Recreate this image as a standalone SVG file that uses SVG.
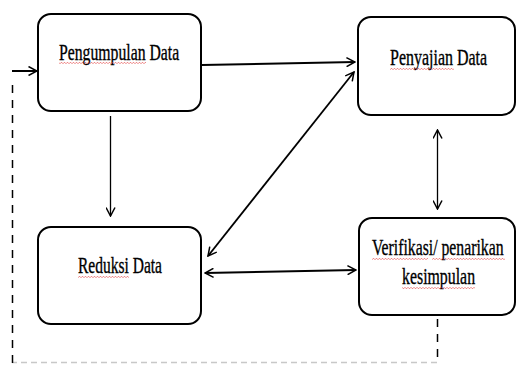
<svg xmlns="http://www.w3.org/2000/svg" width="517" height="365" viewBox="0 0 517 365">
  <style>
    .box { fill: #ffffff; stroke: #000000; stroke-width: 2; }
    .lbl { font-family: "Liberation Serif", "Times New Roman", serif; font-size: 22.5px; fill: #000000; stroke: #000000; stroke-width: 0.35; }
    .con { fill: none; stroke: #000000; }
    .dash { fill: none; stroke: #000000; stroke-width: 1.5; stroke-dasharray: 8 7; }
    .dashl { fill: none; stroke: #c8c8c8; stroke-width: 1.5; stroke-dasharray: 6 4; }
    .sq { fill: url(#wave); }
  </style>
  <defs>
    <marker id="arr" viewBox="0 0 10 10" refX="9" refY="5" markerWidth="10" markerHeight="10" markerUnits="userSpaceOnUse" orient="auto-start-reverse">
      <path d="M0.5,0.5 L9,5 L0.5,9.5" fill="none" stroke="#000000" stroke-width="1.5"/>
    </marker>
    <pattern id="wave" x="0" y="0" width="3" height="2" patternUnits="userSpaceOnUse">
      <path d="M0,1.8 L1.5,0.2 L3,1.8" fill="none" stroke="#e03030" stroke-width="0.6"/>
    </pattern>
  </defs>

  <g id="connectors">
    <line class="con" x1="202" y1="65" x2="355" y2="62" stroke-width="2" marker-end="url(#arr)"/>
    <line class="con" x1="110.5" y1="116" x2="110.5" y2="216" stroke-width="1.3" marker-end="url(#arr)"/>
    <line class="con" x1="208" y1="256" x2="354" y2="72" stroke-width="1.8" marker-start="url(#arr)" marker-end="url(#arr)"/>
    <line class="con" x1="205" y1="273" x2="356" y2="270" stroke-width="2" marker-start="url(#arr)" marker-end="url(#arr)"/>
    <line class="con" x1="437.5" y1="130" x2="437.5" y2="209" stroke-width="1.3" marker-start="url(#arr)" marker-end="url(#arr)"/>
    <line class="dash" x1="437.5" y1="319" x2="437.5" y2="363"/>
    <line class="dashl" x1="437" y1="362.5" x2="12" y2="362.5"/>
    <line class="dash" x1="12.5" y1="363" x2="12.5" y2="78"/>
    <line class="con" x1="12" y1="71" x2="37" y2="71" stroke-width="2" marker-end="url(#arr)"/>
  </g>

  <g id="pengumpulan">
    <rect class="box" x="38" y="14" width="163" height="97" rx="13"/>
    <text class="lbl" transform="translate(59,60) scale(0.7,1)">Pengumpulan Data</text>
    <rect class="sq" x="59" y="62" width="87" height="2"/>
  </g>

  <g id="penyajian">
    <rect class="box" x="358" y="17" width="157" height="98" rx="13"/>
    <text class="lbl" transform="translate(390,65) scale(0.71,1)">Penyajian Data</text>
    <rect class="sq" x="390" y="68" width="64" height="2"/>
  </g>

  <g id="reduksi">
    <rect class="box" x="38" y="227" width="163" height="97" rx="13"/>
    <text class="lbl" transform="translate(78,273) scale(0.69,1)">Reduksi Data</text>
    <rect class="sq" x="78" y="276" width="51" height="2"/>
  </g>

  <g id="verifikasi">
    <rect class="box" x="359" y="218" width="156" height="97" rx="13"/>
    <text class="lbl" transform="translate(372,255) scale(0.7,1)">Verifikasi/ penarikan</text>
    <text class="lbl" transform="translate(402,284) scale(0.705,1)">kesimpulan</text>
    <rect class="sq" x="372" y="258" width="56" height="2"/>
    <rect class="sq" x="432" y="258" width="73" height="2"/>
    <rect class="sq" x="402" y="287" width="73" height="2"/>
  </g>
</svg>
